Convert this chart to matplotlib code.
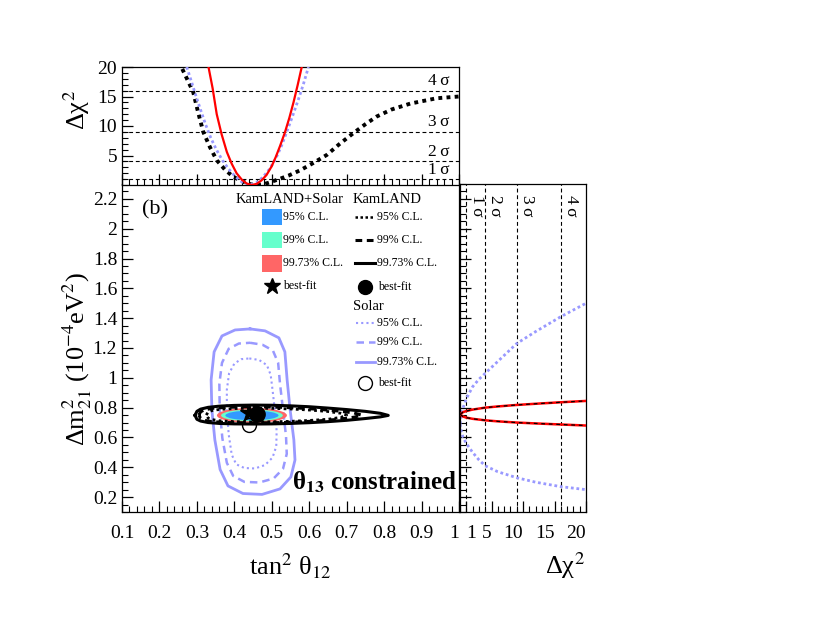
import numpy as np
import matplotlib
matplotlib.use("Agg")
import matplotlib.pyplot as plt
from matplotlib.patches import Ellipse, Rectangle
from matplotlib.ticker import MultipleLocator

plt.rcParams['font.family'] = ['Liberation Serif', 'DejaVu Serif']
plt.rcParams['mathtext.fontset'] = 'stix'

# ---- top panel: delta chi2 vs tan^2(theta12)
kl_tan = [0.255, 0.26, 0.275, 0.29, 0.303, 0.317, 0.335, 0.353, 0.375, 0.397, 0.415, 0.43, 0.445, 0.46,
          0.475, 0.49, 0.513, 0.545, 0.576, 0.61, 0.647, 0.68, 0.718, 0.75, 0.78, 0.82, 0.87, 0.94, 1.0]
kl_chi = [21.0, 19.8, 17.8, 15.8, 12.4, 9.0, 6.4, 4.2, 2.6, 1.4, 0.8, 0.4, 0.1, 0.0,
          0.1, 0.35, 0.85, 1.6, 2.5, 3.7, 5.1, 6.9, 8.8, 10.3, 11.6, 12.8, 13.8, 14.7, 15.0]

red_tan = [0.331, 0.342, 0.353, 0.366, 0.38, 0.393, 0.406, 0.42, 0.433, 0.446, 0.46,
           0.473, 0.486, 0.50, 0.511, 0.522, 0.535, 0.547, 0.558, 0.569, 0.58]
red_chi = [20.0, 16.4, 12.0, 8.6, 5.6, 3.6, 2.0, 0.9, 0.25, 0.0, 0.2,
           0.8, 1.7, 3.2, 4.8, 6.6, 8.9, 11.4, 14.0, 16.9, 20.0]

sol_tan = [0.273, 0.285, 0.297, 0.31, 0.323, 0.337, 0.352, 0.368, 0.385, 0.403, 0.422, 0.44,
           0.458, 0.476, 0.494, 0.51, 0.525, 0.54, 0.555, 0.57, 0.584, 0.598]
sol_chi = [20.0, 17.6, 15.2, 12.7, 10.3, 8.0, 6.0, 4.2, 2.7, 1.4, 0.45, 0.0,
           0.35, 1.3, 2.7, 4.4, 6.5, 9.0, 11.6, 14.3, 17.0, 20.0]

sigma_chi = [1, 4, 9, 16]
sigma_lbl = ['1\u2009σ', '2\u2009σ', '3\u2009σ', '4\u2009σ']

# ---- right panel: delta chi2 vs delta m^2_21
rp_chi = [0, 0.5, 1, 2, 4, 6, 9, 12, 16, 20]
rp_red_up = [0.755, 0.770, 0.777, 0.787, 0.800, 0.808, 0.818, 0.826, 0.836, 0.845]
rp_red_lo = [0.755, 0.740, 0.733, 0.725, 0.715, 0.708, 0.700, 0.694, 0.687, 0.680]
rs_chi = [0, 0.25, 0.5, 1, 2, 3, 4, 6, 9, 12, 16, 20]
rs_sol_up = [0.69, 0.76, 0.80, 0.86, 0.94, 0.99, 1.03, 1.11, 1.23, 1.31, 1.41, 1.50]
rs_sol_lo = [0.69, 0.63, 0.60, 0.56, 0.50, 0.45, 0.41, 0.37, 0.33, 0.30, 0.27, 0.25]
rp_ticks = [1, 5, 10, 15, 20]

# ---- main panel: allowed regions
comb_center = (0.447, 0.748)
comb_width = [0.142, 0.165, 0.187]      # 95, 99, 99.73 % C.L.
comb_height = [0.065, 0.079, 0.101]
comb_colors = ['#3399ff', '#66ffcc', '#ff6666']

kl3_x = [0.295, 0.30, 0.31, 0.33, 0.36, 0.40, 0.45, 0.50, 0.55, 0.60, 0.65, 0.70, 0.75, 0.79, 0.811]
kl3_up = [0.748, 0.775, 0.790, 0.802, 0.810, 0.815, 0.817, 0.816, 0.812, 0.806, 0.797, 0.787, 0.775, 0.762, 0.748]
kl3_lo = [0.748, 0.722, 0.710, 0.700, 0.694, 0.691, 0.690, 0.691, 0.694, 0.699, 0.706, 0.715, 0.727, 0.738, 0.748]
kl2_x = [0.305, 0.31, 0.32, 0.34, 0.38, 0.43, 0.48, 0.53, 0.58, 0.63, 0.68, 0.72, 0.74]
kl2_up = [0.750, 0.772, 0.785, 0.795, 0.802, 0.805, 0.805, 0.802, 0.796, 0.788, 0.777, 0.764, 0.750]
kl2_lo = [0.750, 0.728, 0.715, 0.706, 0.700, 0.698, 0.698, 0.700, 0.705, 0.712, 0.722, 0.736, 0.750]
kl1_x = [0.325, 0.33, 0.34, 0.36, 0.40, 0.45, 0.50, 0.55, 0.60, 0.65, 0.685, 0.70]
kl1_up = [0.750, 0.770, 0.780, 0.788, 0.794, 0.796, 0.795, 0.791, 0.784, 0.774, 0.762, 0.750]
kl1_lo = [0.750, 0.730, 0.720, 0.712, 0.706, 0.704, 0.705, 0.708, 0.714, 0.722, 0.735, 0.750]

sol3_x = [0.442, 0.482, 0.519, 0.535, 0.541, 0.549, 0.559, 0.562, 0.551, 0.522, 0.474, 0.423,
          0.383, 0.362, 0.348, 0.340, 0.338, 0.346, 0.367, 0.402, 0.442]
sol3_y = [1.328, 1.315, 1.268, 1.174, 0.986, 0.785, 0.583, 0.449, 0.335, 0.255, 0.218, 0.224,
          0.275, 0.385, 0.583, 0.785, 0.986, 1.174, 1.281, 1.321, 1.328]
sol2_x = [0.442, 0.475, 0.503, 0.517, 0.522, 0.530, 0.538, 0.540, 0.530, 0.505, 0.467, 0.427,
          0.397, 0.380, 0.368, 0.361, 0.360, 0.367, 0.385, 0.412, 0.442]
sol2_y = [1.235, 1.222, 1.183, 1.100, 0.960, 0.785, 0.610, 0.490, 0.390, 0.325, 0.298, 0.302,
          0.342, 0.430, 0.595, 0.785, 0.960, 1.100, 1.195, 1.230, 1.235]
sol1_x = [0.440, 0.466, 0.487, 0.497, 0.502, 0.508, 0.513, 0.512, 0.502, 0.482, 0.455, 0.427,
          0.405, 0.393, 0.385, 0.380, 0.380, 0.386, 0.400, 0.418, 0.440]
sol1_y = [1.130, 1.120, 1.085, 1.020, 0.920, 0.785, 0.645, 0.540, 0.465, 0.415, 0.392, 0.395,
          0.420, 0.485, 0.620, 0.785, 0.920, 1.030, 1.095, 1.125, 1.130]

best_comb = (0.440, 0.762)
best_kl = (0.461, 0.756)
best_sol = (0.440, 0.684)

W, H = 830, 642
fig = plt.figure(figsize=(W / 100, H / 100), dpi=100)
ax = fig.add_axes([122 / W, 130 / H, 337 / W, 328 / H])
axt = fig.add_axes([122 / W, 457 / H, 337 / W, 118 / H])
axr = fig.add_axes([460 / W, 130 / H, 126 / W, 328 / H])

lav = '#9999ff'
for a in (ax, axt, axr):
    for s in a.spines.values():
        s.set_linewidth(0.9)
    a.tick_params(which='both', direction='in', top=False, right=False, labelsize=14)
    a.tick_params(which='major', length=8, width=0.9)
    a.tick_params(which='minor', length=4, width=0.8)

# main panel
for w, h, c in zip(comb_width[::-1], comb_height[::-1], comb_colors[::-1]):
    ax.add_patch(Ellipse(comb_center, w, h, facecolor=c, edgecolor='none', zorder=2))

ax.plot(sol3_x, sol3_y, color=lav, lw=2.0, zorder=1)
ax.plot(sol2_x, sol2_y, color=lav, lw=1.8, dashes=(3, 2), zorder=1)
ax.plot(sol1_x, sol1_y, color=lav, lw=1.5, dashes=(1, 1.5), zorder=1)

for xs, up, lo, sty in [(kl3_x, kl3_up, kl3_lo, dict(lw=2.2)),
                        (kl2_x, kl2_up, kl2_lo, dict(lw=2.2, dashes=(2.2, 1.5))),
                        (kl1_x, kl1_up, kl1_lo, dict(lw=2.0, dashes=(1, 1.2)))]:
    ax.plot(xs + xs[::-1], up + lo[::-1], color='k', zorder=3, **sty)

ax.plot(*best_comb, marker='*', ms=13, color='k', zorder=5, ls='none')
ax.plot(*best_kl, marker='o', ms=11, color='k', zorder=5, ls='none')
ax.plot(*best_sol, marker='o', ms=10, mfc='none', mec='k', mew=1.0, zorder=5, ls='none')

ax.set_xlim(0.1, 1.0)
ax.set_ylim(0.1, 2.3)
ax.set_xticks(np.arange(0.1, 1.01, 0.1))
ax.set_xticklabels(['0.1', '0.2', '0.3', '0.4', '0.5', '0.6', '0.7', '0.8', '0.9', '1'])
ax.set_yticks(np.arange(0.2, 2.21, 0.2))
ax.set_yticklabels(['0.2', '0.4', '0.6', '0.8', '1', '1.2', '1.4', '1.6', '1.8', '2', '2.2'])
ax.xaxis.set_minor_locator(MultipleLocator(0.02))
ax.yaxis.set_minor_locator(MultipleLocator(0.05))
ax.tick_params(axis='x', pad=9)
ax.get_xticklabels()[-1].set_horizontalalignment('right')

# legend (drawn by hand, ROOT style)
tr = ax.transAxes
ax.text(0.496, 0.954, 'KamLAND+Solar', transform=tr, ha='center', va='center', fontsize=10.5)
ax.text(0.685, 0.954, 'KamLAND', transform=tr, ha='left', va='center', fontsize=10.5)
leg_y = [0.900, 0.829, 0.758]
leg_txt = ['95% C.L.', '99% C.L.', '99.73% C.L.']
kl_sty = [dict(lw=1.8, dashes=(1, 1)), dict(lw=2.2, dashes=(2.2, 1.5)), dict(lw=2.2)]
sol_sty = [dict(lw=1.5, dashes=(1, 1.5)), dict(lw=1.8, dashes=(3, 2)), dict(lw=2.0)]
for yy, t, c, ks in zip(leg_y, leg_txt, comb_colors, kl_sty):
    ax.add_patch(Rectangle((0.4145, yy - 0.025), 0.0595, 0.05, transform=tr, facecolor=c,
                           edgecolor='none', zorder=4))
    ax.text(0.479, yy, t, transform=tr, ha='left', va='center', fontsize=8.5)
    ax.plot([0.691, 0.751], [yy, yy], transform=tr, color='k', **ks)
    ax.text(0.756, yy, t, transform=tr, ha='left', va='center', fontsize=8.5)
ax.plot(0.444, 0.690, transform=tr, marker='*', ms=12, color='k')
ax.text(0.479, 0.690, 'best-fit', transform=tr, ha='left', va='center', fontsize=8.5)
ax.plot(0.721, 0.687, transform=tr, marker='o', ms=10, color='k')
ax.text(0.7605, 0.687, 'best-fit', transform=tr, ha='left', va='center', fontsize=8.5)
ax.text(0.685, 0.628, 'Solar', transform=tr, ha='left', va='center', fontsize=10.5)
for yy, t, ss in zip([0.577, 0.517, 0.456], leg_txt, sol_sty):
    ax.plot([0.694, 0.751], [yy, yy], transform=tr, color=lav, **ss)
    ax.text(0.758, yy, t, transform=tr, ha='left', va='center', fontsize=8.5)
ax.plot(0.721, 0.392, transform=tr, marker='o', ms=10, mfc='none', mec='k', mew=1.0)
ax.text(0.7605, 0.392, 'best-fit', transform=tr, ha='left', va='center', fontsize=8.5)

ax.text(0.058, 0.921, '(b)', transform=tr, ha='left', va='center', fontsize=16)
ax.text(0.993, 0.067, 'θ$_{\\mathbf{13}}$ constrained', transform=tr, ha='right',
        va='baseline', fontsize=18, fontweight='bold')

# top panel
for v, l in zip(sigma_chi, sigma_lbl):
    axt.axhline(v, color='k', lw=0.8, dashes=(3.5, 2.5), zorder=1)
    axt.text(0.94, v + 0.25, l, transform=axt.get_yaxis_transform(), ha='center', va='bottom',
             fontsize=12.5)
axt.plot(kl_tan, kl_chi, color='k', lw=2.8, dashes=(1, 1.1), zorder=2)
axt.plot(sol_tan, sol_chi, color=lav, lw=2.0, dashes=(1, 1), zorder=3)
axt.plot(red_tan, red_chi, color='red', lw=1.6, zorder=4)
axt.set_xlim(0.1, 1.0)
axt.set_ylim(0, 20)
axt.set_xticks(np.arange(0.1, 1.01, 0.1))
axt.xaxis.set_minor_locator(MultipleLocator(0.02))
axt.set_yticks([5, 10, 15, 20])
axt.yaxis.set_minor_locator(MultipleLocator(1))
axt.tick_params(axis='x', labelbottom=False)

# right panel
for v, l in zip(sigma_chi, sigma_lbl):
    axr.axvline(v, color='k', lw=0.8, dashes=(3.5, 2.5), zorder=1)
    axr.text(v + 0.35, 2.225, l, ha='left', va='top', rotation=-90, fontsize=12.5)
axr.plot(rs_chi, rs_sol_up, color=lav, lw=2.0, dashes=(1, 1), zorder=2)
axr.plot(rs_chi, rs_sol_lo, color=lav, lw=2.0, dashes=(1, 1), zorder=2)
axr.plot(rp_chi, rp_red_up, color='red', lw=1.8, zorder=3)
axr.plot(rp_chi, rp_red_lo, color='red', lw=1.8, zorder=3)
axr.plot(rp_chi, rp_red_up, color='k', lw=0.9, dashes=(3, 3), zorder=4)
axr.plot(rp_chi, rp_red_lo, color='k', lw=0.9, dashes=(3, 3), zorder=4)
axr.set_xlim(0, 20)
axr.set_ylim(0.1, 2.3)
axr.set_xticks(rp_ticks)
axr.set_xticklabels([str(t) for t in rp_ticks], ha='right')
axr.get_xticklabels()[0].set_horizontalalignment('left')
axr.xaxis.set_minor_locator(MultipleLocator(1))
axr.set_yticks(np.arange(0.2, 2.21, 0.2))
axr.yaxis.set_minor_locator(MultipleLocator(0.05))
axr.tick_params(axis='y', labelleft=False)
axr.tick_params(axis='x', pad=9)

# axis titles
fig.text(290 / W, 1 - 566 / H, 'tan$^{2}$ θ$_{12}$', ha='center', va='center', fontsize=19)
fig.text(565 / W, 1 - 566 / H, 'Δχ$^{2}$', ha='center', va='center', fontsize=19)
fig.text(77 / W, 1 - 359 / H, 'Δm$^{2}_{21}$ (10$^{-4}$eV$^{2}$)', ha='center', va='center',
         rotation=90, fontsize=19)
fig.text(77 / W, 1 - 110 / H, 'Δχ$^{2}$', ha='center', va='center', rotation=90, fontsize=19)

fig.savefig('out.png', dpi=100)
